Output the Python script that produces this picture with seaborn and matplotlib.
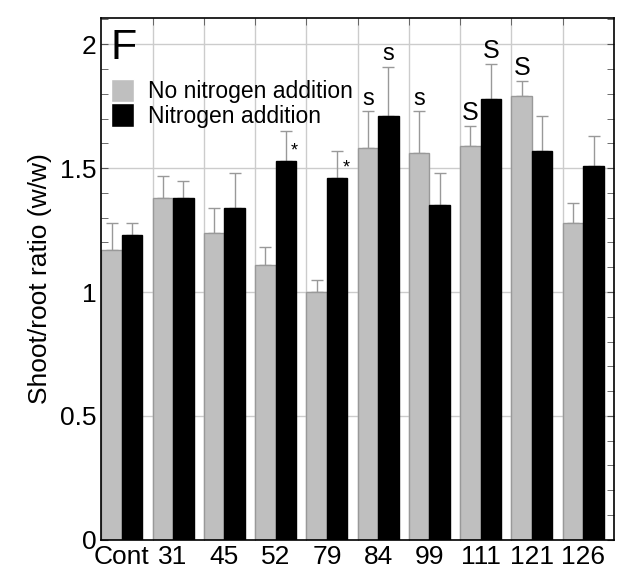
import numpy as np
import pandas as pd
import matplotlib
matplotlib.use('Agg')
import matplotlib.pyplot as plt
import seaborn as sns
from matplotlib.ticker import MultipleLocator, FixedLocator, FuncFormatter

# values
strains = ['Cont', '31', '45', '52', '79', '84', '99', '111', '121', '126']
no_n_mean = [1.17, 1.38, 1.24, 1.11, 1.00, 1.58, 1.56, 1.59, 1.79, 1.28]
no_n_err = [0.11, 0.09, 0.10, 0.07, 0.05, 0.15, 0.17, 0.08, 0.06, 0.08]
n_mean = [1.23, 1.38, 1.34, 1.53, 1.46, 1.71, 1.35, 1.78, 1.57, 1.51]
n_err = [0.05, 0.07, 0.14, 0.12, 0.11, 0.20, 0.13, 0.14, 0.14, 0.12]
groups = ['No nitrogen addition', 'Nitrogen addition']

# significance marks: (strain index, series index, label)
marks = [(3, 1, '*'), (4, 1, '*'),
         (5, 0, 's'), (5, 1, 's'), (6, 0, 's'),
         (7, 0, 'S'), (7, 1, 'S'), (8, 0, 'S')]

df = pd.DataFrame({
    'strain': strains * 2,
    'ratio': no_n_mean + n_mean,
    'treatment': [groups[0]] * len(strains) + [groups[1]] * len(strains),
})

sns.set_style('white')
plt.rcParams['font.family'] = ['Liberation Sans', 'DejaVu Sans']
plt.rcParams['text.color'] = 'black'
plt.rcParams['axes.labelcolor'] = 'black'
plt.rcParams['xtick.labelcolor'] = 'black'
plt.rcParams['ytick.labelcolor'] = 'black'

fig = plt.figure(figsize=(6.33, 5.7), dpi=100)
ax = fig.add_axes([0.16, 0.053, 0.81, 0.915])

sns.barplot(data=df, x='strain', y='ratio', hue='treatment', order=strains,
            hue_order=groups, palette=['#bfbfbf', '#000000'], errorbar=None,
            width=0.8, saturation=1, ax=ax, zorder=2)

bar_sets = list(ax.containers)
for cont, col in zip(bar_sets, ['#999999', '#000000']):
    for p in cont:
        p.set_edgecolor(col)
        p.set_linewidth(1)

# upward-only error bars
means = [no_n_mean, n_mean]
errs = [no_n_err, n_err]
centers = []
for k, cont in enumerate(bar_sets):
    xs = [p.get_x() + p.get_width() / 2 for p in cont]
    centers.append(xs)
    ax.errorbar(xs, means[k], yerr=[np.zeros(len(xs)), errs[k]], fmt='none',
                ecolor='#999999', elinewidth=1, capsize=4, capthick=1, zorder=1)

for i, k, lab in marks:
    top = means[k][i] + errs[k][i]
    if lab == '*':
        ax.text(centers[k][i] + 0.17, means[k][i] + 0.005, lab, ha='center',
                va='bottom', fontsize=13)
    else:
        ax.text(centers[k][i], top + 0.005, lab, ha='center', va='bottom',
                fontsize=18 if lab == 'S' else 17)

ax.set_xlim(-0.4, 9.6)
ax.set_ylim(0, 2.105)
ax.yaxis.set_major_locator(MultipleLocator(0.5))
ax.yaxis.set_minor_locator(MultipleLocator(0.1))
ax.yaxis.set_major_formatter(FuncFormatter(lambda v, pos: '%g' % v))
ax.xaxis.set_minor_locator(FixedLocator(np.arange(0.6, 9.6, 1.0)))
ax.grid(True, which='major', axis='y', color='#cccccc', lw=1, zorder=0)
ax.grid(True, which='minor', axis='x', color='#cccccc', lw=1, zorder=0)
ax.set_axisbelow(True)
ax.tick_params(axis='both', which='both', direction='in', top=True,
               right=True, left=True, bottom=True, labelsize=19, length=5,
               color='#555555')
ax.tick_params(axis='x', which='major', length=0, pad=4)
for s in ax.spines.values():
    s.set_color('black')
    s.set_linewidth(1.2)

ax.set_xlabel('')
ax.set_ylabel('Shoot/root ratio (w/w)', fontsize=19, labelpad=6)

ax.text(0.018, 0.982, 'F', transform=ax.transAxes, fontsize=31,
        va='top', ha='left')
ax.legend(loc='upper left', bbox_to_anchor=(-0.012, 0.915), frameon=False,
          fontsize=16.5, handlelength=1.0, handleheight=1.2,
          handletextpad=0.6, labelspacing=0.0, borderaxespad=0.3)

fig.savefig('out.png', dpi=100)
